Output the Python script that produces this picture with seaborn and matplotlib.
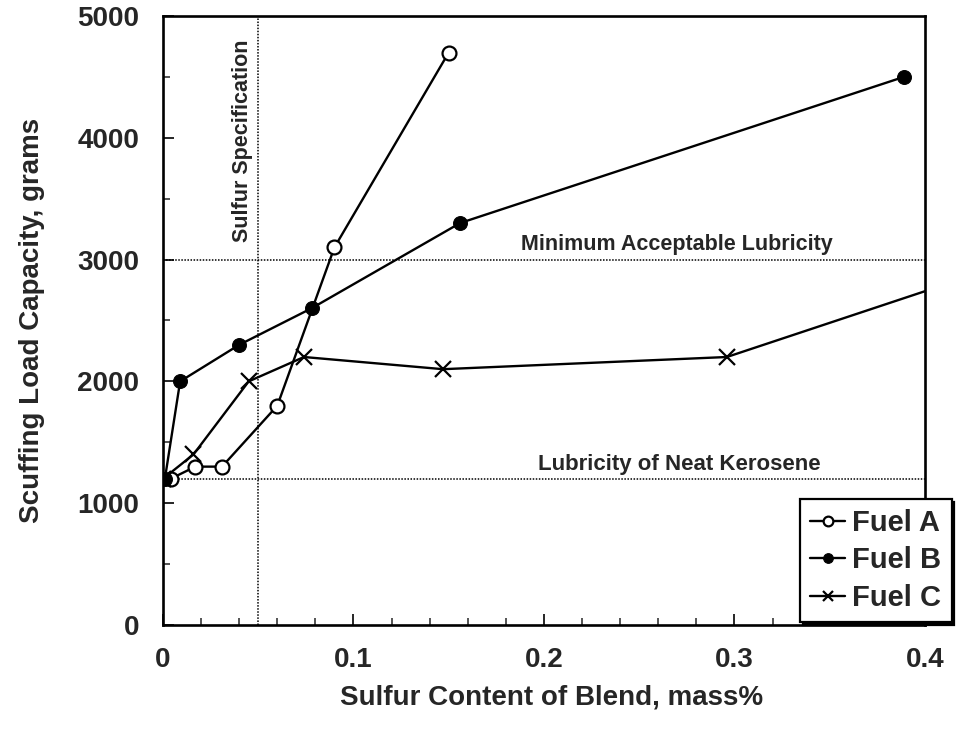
import matplotlib
matplotlib.use("Agg")
import matplotlib.pyplot as plt
import seaborn as sns
from matplotlib.ticker import MultipleLocator

# Data
fuel_a_x = [0.004, 0.017, 0.031, 0.060, 0.090, 0.150]
fuel_a_y = [1200, 1300, 1300, 1800, 3100, 4700]
fuel_b_x = [0.001, 0.009, 0.040, 0.078, 0.156, 0.389]
fuel_b_y = [1200, 2000, 2300, 2600, 3300, 4500]
fuel_c_x = [0.000, 0.016, 0.045, 0.074, 0.147, 0.296, 0.450]
fuel_c_y = [1200, 1400, 2000, 2200, 2100, 2200, 3000]

sulfur_spec = 0.05
min_lubricity = 3000
neat_kerosene = 1200
x_ticks = [0, 0.1, 0.2, 0.3, 0.4]
x_tick_labels = ["0", "0.1", "0.2", "0.3", "0.4"]

sns.set_style("ticks")
plt.rcParams["font.family"] = ["Liberation Sans", "DejaVu Sans"]

fig = plt.figure(figsize=(9.61, 7.29), dpi=100)
ax = fig.add_axes([0.1696, 0.1427, 0.7929, 0.8354])

dot = (0, (1, 1))
ax.axvline(sulfur_spec, color="black", lw=1.1, ls=dot, zorder=1)
ax.axhline(min_lubricity, color="black", lw=1.1, ls=dot, zorder=1)
ax.axhline(neat_kerosene, color="black", lw=1.1, ls=dot, zorder=1)

common = dict(color="black", linewidth=1.7, ax=ax, sort=False)
sns.lineplot(x=fuel_a_x, y=fuel_a_y, marker="o", markersize=10,
             markerfacecolor="white", markeredgecolor="black",
             markeredgewidth=1.6, label="Fuel A", zorder=3, **common)
sns.lineplot(x=fuel_b_x, y=fuel_b_y, marker="o", markersize=10,
             markerfacecolor="black", markeredgecolor="black",
             label="Fuel B", zorder=3, **common)
sns.lineplot(x=fuel_c_x, y=fuel_c_y, marker="x", markersize=12,
             markeredgewidth=1.6, markeredgecolor="black",
             label="Fuel C", zorder=3, **common)

ax.set_xlim(0, 0.4)
ax.set_ylim(0, 5000)
ax.xaxis.set_minor_locator(MultipleLocator(0.02))
ax.yaxis.set_major_locator(MultipleLocator(1000))
ax.yaxis.set_minor_locator(MultipleLocator(500))
ax.set_xticks(x_ticks)
ax.set_xticklabels(x_tick_labels)
ax.tick_params(which="major", direction="in", length=8, width=1.4,
               labelsize=20)
ax.tick_params(axis="x", which="major", pad=16)
ax.tick_params(axis="y", which="major", pad=17)
ax.tick_params(which="minor", direction="in", length=5, width=1.1)
for lab in ax.get_xticklabels() + ax.get_yticklabels():
    lab.set_fontweight("bold")
for s in ax.spines.values():
    s.set_linewidth(1.9)
    s.set_color("black")

ax.set_xlabel("Sulfur Content of Blend, mass%", fontsize=20,
              fontweight="bold")
ax.set_ylabel("Scuffing Load Capacity, grams", fontsize=20,
              fontweight="bold")
ax.xaxis.set_label_coords(0.51, -0.098)
ax.xaxis.label.set_va("top")
ax.yaxis.set_label_coords(-0.155, 0.5)

ax.text(0.042, 4810, "Sulfur Specification", rotation=90, ha="center",
        va="top", fontsize=15.5, fontweight="bold")
ax.text(0.188, 3035, "Minimum Acceptable Lubricity", ha="left",
        va="bottom", fontsize=15.5, fontweight="bold")
ax.text(0.197, 1235, "Lubricity of Neat Kerosene", ha="left",
        va="bottom", fontsize=16, fontweight="bold")

leg = ax.legend(loc="lower right", bbox_to_anchor=(1.035, 0.005),
                prop={"size": 21, "weight": "bold"}, frameon=True,
                fancybox=False, shadow={"color": "black", "alpha": 1.0},
                borderaxespad=0, handlelength=1.2, handletextpad=0.25,
                labelspacing=0.32, borderpad=0.35)
leg.get_frame().set_edgecolor("black")
leg.get_frame().set_linewidth(1.6)
leg.get_frame().set_alpha(1.0)
for h in leg.legend_handles:
    h.set_markersize(7)

fig.savefig("out.png", dpi=100)
